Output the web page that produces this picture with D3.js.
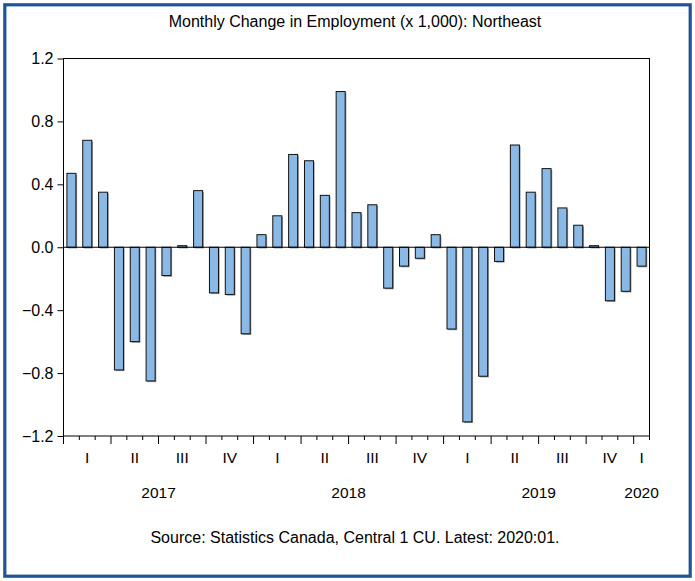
<!DOCTYPE html>
<html>
<head>
<meta charset="utf-8">
<script src="https://cdn.jsdelivr.net/npm/d3@7"></script>
<style>
  html, body { margin: 0; padding: 0; background: #fff; }
  svg { display: block; }
  text { font-family: "Liberation Sans", Arial, sans-serif; fill: #000; }
</style>
</head>
<body>
<svg id="chart" width="695" height="581"></svg>
<script>
// Monthly change in employment, Jan 2017 – Jan 2020 (thousands)
const months = d3.range(37).map(i => new Date(2017, i, 1));
const values = [
  0.47, 0.68, 0.35, -0.78, -0.60, -0.85, -0.18, 0.01, 0.36, -0.29, -0.30, -0.55,
  0.08, 0.20, 0.59, 0.55, 0.33, 0.99, 0.22, 0.27, -0.26, -0.12, -0.07, 0.08,
  -0.52, -1.11, -0.82, -0.09, 0.65, 0.35, 0.50, 0.25, 0.14, 0.01, -0.34, -0.28, -0.12
];
const yTicks = [-1.2, -0.8, -0.4, 0.0, 0.4, 0.8, 1.2];
const quarterLabels = ["I", "II", "III", "IV"];
const years = [2017, 2018, 2019, 2020];
const titleText = "Monthly Change in Employment (x 1,000): Northeast";
const sourceText = "Source: Statistics Canada, Central 1 CU. Latest: 2020:01.";

const svg = d3.select("#chart");
const W = 695, H = 581;
const plot = { left: 63.5, right: 649.5, top: 58.5, bottom: 436 };

// outer frame
svg.append("rect")
  .attr("x", 4.8).attr("y", 4.8)
  .attr("width", W - 9.6).attr("height", H - 9.6)
  .attr("fill", "#fff")
  .attr("stroke", "#1f5496").attr("stroke-width", 3.2);

const x = d3.scaleBand()
  .domain(d3.range(months.length))
  .range([plot.left, plot.right])
  .paddingInner(0.43).paddingOuter(0.215);

const xEdge = d3.scaleLinear()
  .domain([0, months.length])
  .range([plot.left, plot.right]);

const y = d3.scaleLinear().domain([-1.2, 1.2]).range([plot.bottom, plot.top]);

// title
svg.append("text")
  .attr("x", 355).attr("y", 27)
  .attr("text-anchor", "middle")
  .attr("font-size", 16)
  .text(titleText);

// plot frame
svg.append("rect")
  .attr("x", plot.left).attr("y", plot.top)
  .attr("width", plot.right - plot.left).attr("height", plot.bottom - plot.top)
  .attr("fill", "none").attr("stroke", "#000").attr("stroke-width", 1);

// bars: drop shadow, then filled bar
const bars = svg.append("g");
bars.selectAll("rect.shadow")
  .data(values)
  .join("rect")
  .attr("class", "shadow")
  .attr("x", (d, i) => x(i) + 1.2)
  .attr("y", d => Math.min(y(d), y(0)) + 1.2)
  .attr("width", x.bandwidth())
  .attr("height", d => Math.abs(y(d) - y(0)))
  .attr("fill", "#9a9a9a");

bars.selectAll("rect.bar")
  .data(values)
  .join("rect")
  .attr("class", "bar")
  .attr("x", (d, i) => x(i))
  .attr("y", d => Math.min(y(d), y(0)))
  .attr("width", x.bandwidth())
  .attr("height", d => Math.abs(y(d) - y(0)))
  .attr("fill", "#8bb9e6")
  .attr("stroke", "#111").attr("stroke-width", 1);

// zero line
svg.append("line")
  .attr("x1", plot.left).attr("x2", plot.right)
  .attr("y1", y(0)).attr("y2", y(0))
  .attr("stroke", "#000").attr("stroke-width", 1.2);

// y axis
const yAxis = d3.axisLeft(y)
  .tickValues(yTicks)
  .tickSize(6)
  .tickPadding(4)
  .tickFormat(d3.format(".1f"));
const gy = svg.append("g")
  .attr("transform", `translate(${plot.left},0)`)
  .call(yAxis);
gy.select(".domain").remove();
gy.selectAll("text")
  .attr("font-size", 16)
  .attr("font-family", "Liberation Sans, Arial, sans-serif");

// x axis: month ticks, longer at quarter boundaries
const edges = d3.range(months.length + 1);
svg.append("g").selectAll("line")
  .data(edges)
  .join("line")
  .attr("x1", d => xEdge(d)).attr("x2", d => xEdge(d))
  .attr("y1", plot.bottom)
  .attr("y2", d => plot.bottom + (d % 3 === 0 ? 8 : 4))
  .attr("stroke", "#000").attr("stroke-width", 1);

// quarter labels
const quarters = d3.range(Math.ceil(months.length / 3));
svg.append("g").selectAll("text")
  .data(quarters)
  .join("text")
  .attr("x", q => (xEdge(q * 3) + xEdge(Math.min(q * 3 + 3, months.length))) / 2)
  .attr("y", 463)
  .attr("text-anchor", "middle")
  .attr("font-size", 15.5)
  .text(q => quarterLabels[q % 4]);

// year labels
svg.append("g").selectAll("text")
  .data(years)
  .join("text")
  .attr("x", yr => {
    const i0 = (yr - 2017) * 12;
    const i1 = Math.min(i0 + 12, months.length);
    return (xEdge(i0) + xEdge(i1)) / 2;
  })
  .attr("y", 498)
  .attr("text-anchor", "middle")
  .attr("font-size", 15.5)
  .text(yr => yr);

// source note
svg.append("text")
  .attr("x", 355).attr("y", 543)
  .attr("text-anchor", "middle")
  .attr("font-size", 16)
  .text(sourceText);
</script>
</body>
</html>
